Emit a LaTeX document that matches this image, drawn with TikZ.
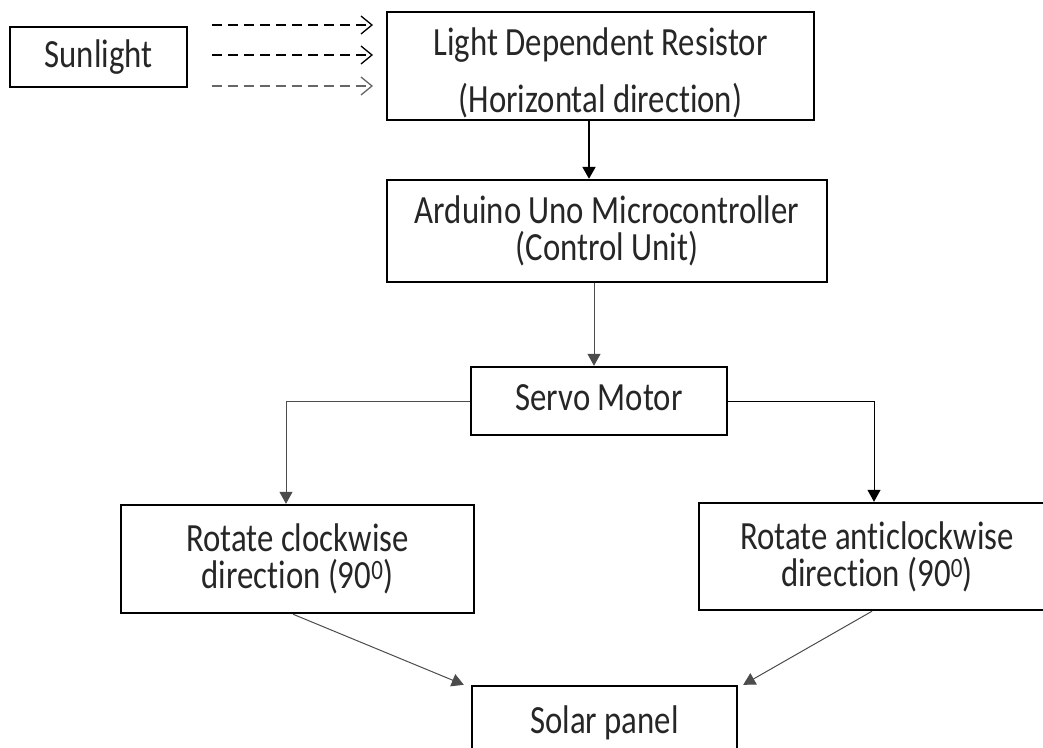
\documentclass[tikz,border=0pt]{standalone}
\usepackage{fontspec}
\setmainfont{Carlito}[Ligatures=NoCommon,FakeStretch=0.82]
\usetikzlibrary{arrows.meta}
\tikzstyle{block}=[rectangle,draw,line width=2.4pt,align=center,inner sep=0]
\tikzstyle{every node}=[font=\fontsize{40}{37}\selectfont,text=black!85]
\tikzstyle{ray}=[dash pattern=on 10pt off 6pt,line width=1.3pt,-{Straight Barb[length=11pt,width=18pt]}]
\tikzstyle{link}=[->,line width=1pt,black!70]
\newcommand{\blocknode}[5]{\node[block, minimum width=#3, minimum height=#4] (#1) at (#2) {#5};}

\begin{document}
\begin{tikzpicture}[x=1pt,y=-1pt,>={Triangle[length=12pt,width=13pt]}]
\clip (0,0) rectangle (1043,747);

\blocknode{sun}{98.5,57}{177pt}{60pt}{Sunlight}
\blocknode{ldr}{600.5,66}{427pt}{108pt}{\rule{0pt}{42pt}Light Dependent Resistor\\[20pt](Horizontal direction)}
\blocknode{ard}{607,231}{440pt}{102pt}{Arduino Uno Microcontroller\\(Control Unit)}
\blocknode{servo}{599,401}{256pt}{68pt}{\raisebox{6pt}{Servo Motor}}
\blocknode{cw}{297.5,559}{353pt}{108pt}{Rotate clockwise\\direction (90\textsuperscript{0})}
\blocknode{acw}{877,556.5}{356pt}{107pt}{Rotate anticlockwise\\direction (90\textsuperscript{0})}
\blocknode{solar}{604.5,726}{265pt}{80pt}{\raisebox{13pt}{Solar panel}}

% light rays
\coordinate (r1s) at (212,25);  \coordinate (r1e) at (373,25);
\coordinate (r2s) at (212,55);  \coordinate (r2e) at (373,55);
\coordinate (r3s) at (212,86);  \coordinate (r3e) at (373,86);
\draw[ray] (r1s) -- (r1e);
\draw[ray] (r2s) -- (r2e);
\draw[ray,black!60] (r3s) -- (r3e);

\draw[->,line width=2pt] ([xshift=-11.5pt]ldr.south) -- ([xshift=-18pt]ard.north);
\draw[link] ([xshift=-13pt]ard.south) -- ([xshift=-5pt]servo.north);
\draw[link] (servo.west) -| ([xshift=-11.5pt]cw.north);
\draw[link,black] (servo.east) -| ([xshift=-3pt]acw.north);
\draw[link] ([xshift=-4.5pt]cw.south) -- ([xshift=-7pt]solar.north west);
\draw[link] ([xshift=-5pt]acw.south) -- ([xshift=5pt]solar.north east);
\end{tikzpicture}
\end{document}
